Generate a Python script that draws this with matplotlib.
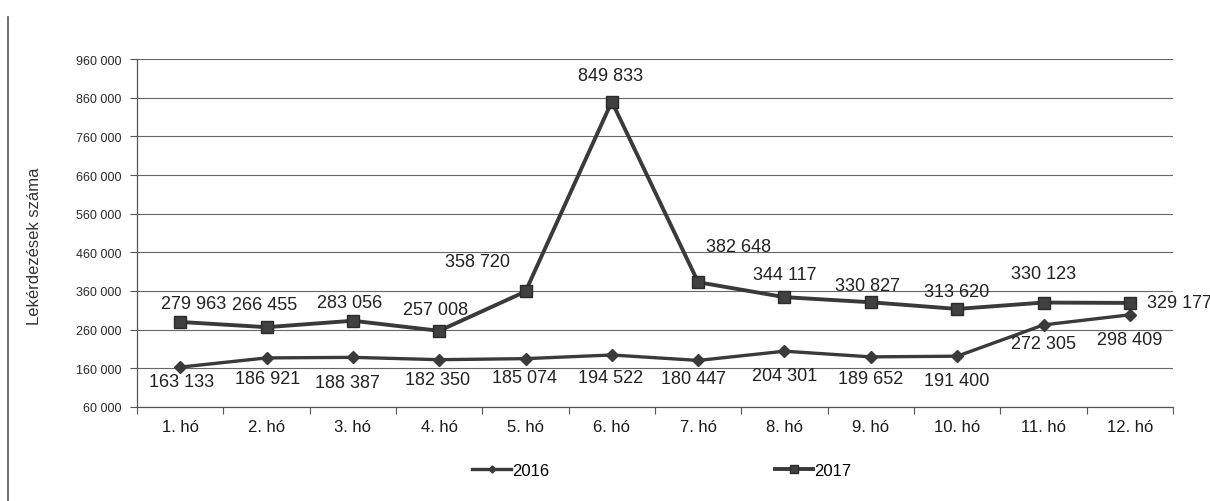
import matplotlib
matplotlib.use("Agg")
import matplotlib.pyplot as plt
from matplotlib.lines import Line2D
import numpy as np

plt.rcParams['font.family'] = ['Liberation Sans', 'DejaVu Sans']

months = ["1. hó", "2. hó", "3. hó", "4. hó", "5. hó", "6. hó",
          "7. hó", "8. hó", "9. hó", "10. hó", "11. hó", "12. hó"]
values_2016 = [163133, 186921, 188387, 182350, 185074, 194522,
               180447, 204301, 189652, 191400, 272305, 298409]
values_2017 = [279963, 266455, 283056, 257008, 358720, 849833,
               382648, 344117, 330827, 313620, 330123, 329177]
yticks = list(range(60000, 960001, 100000))

# label placement offsets in pixels (dx, dy up) relative to the marker centre
off_2017 = [(13, 18), (-2, 23), (-3, 18), (-4, 21), (-48, 30), (-1, 26),
            (40, 36), (0, 23), (-3, 17), (-1, 17), (0, 29), (17, 0)]
off_2016 = [(1, -14), (1, -21), (-5, -25), (-2, -20), (-1, -19), (-1, -23),
            (-5, -18), (0, -24), (0, -22), (0, -24), (0, -19), (0, -25)]

PX = 0.72  # points per pixel at 100 dpi


def fmt(v):
    return f"{v:,}".replace(",", " ")


fig = plt.figure(figsize=(12.10, 5.02), dpi=100)
W, H = 1210, 502
ax = fig.add_axes([137 / W, 1 - 408 / H, (1173 - 137) / W, (408 - 60) / H])

x = np.arange(len(months))
dark = "#3a3a3a"
ax.plot(x, values_2016, color=dark, lw=2.4, marker="D", ms=6,
        markerfacecolor=dark, markeredgecolor=dark, zorder=3, label="2016")
ax.plot(x, values_2017, color=dark, lw=2.8, marker="s", ms=9,
        markerfacecolor="#404040", markeredgecolor="#2a2a2a", zorder=4, label="2017")

for i, v in enumerate(values_2017):
    dx, dy = off_2017[i]
    last = i == len(values_2017) - 1
    ax.annotate(fmt(v), (x[i], v), xytext=(dx * PX, dy * PX), textcoords="offset points",
                ha="left" if last else "center", va="center", fontsize=13,
                color="#222222", annotation_clip=False)
for i, v in enumerate(values_2016):
    dx, dy = off_2016[i]
    ax.annotate(fmt(v), (x[i], v), xytext=(dx * PX, dy * PX), textcoords="offset points",
                ha="center", va="center", fontsize=13, color="#222222",
                annotation_clip=False)

ax.set_xlim(-0.5, len(months) - 0.5)
ax.set_ylim(60000, 960000)
ax.set_yticks(yticks)
ax.set_yticklabels([fmt(t) for t in yticks], fontsize=9, color="#2a2a2a")
ax.set_xticks(x)
ax.set_xticklabels(months, fontsize=12, color="#1a1a1a")
ax.set_xticks(np.arange(-0.5, len(months), 1), minor=True)
ax.tick_params(axis="x", which="major", length=0, pad=9)
ax.tick_params(axis="x", which="minor", length=5, width=0.8, color="#555555")
ax.tick_params(axis="y", length=5, width=0.8, color="#555555", pad=6)

ax.grid(axis="y", color="#666666", lw=0.8)
ax.set_axisbelow(True)
for s in ["top", "right"]:
    ax.spines[s].set_visible(False)
for s in ["left", "bottom"]:
    ax.spines[s].set_color("#555555")
    ax.spines[s].set_linewidth(0.9)

ax.set_ylabel("Lekérdezések száma", fontsize=12, color="#333333")
ax.yaxis.set_label_coords((42 - 137) / 1036, (408 - 246) / 348)

leg = fig.legend(loc="center", bbox_to_anchor=(662 / W, 1 - 471 / H), ncol=2,
                 frameon=False, fontsize=12, handlelength=2.3, handletextpad=0.1,
                 columnspacing=13.5, markerscale=0.6)

# left frame line of the scanned chart box
fig.add_artist(Line2D([8 / W, 8 / W], [0, 1 - 18 / H], color="#555555", lw=1.2))

fig.savefig("out.png", dpi=100, facecolor="white")
